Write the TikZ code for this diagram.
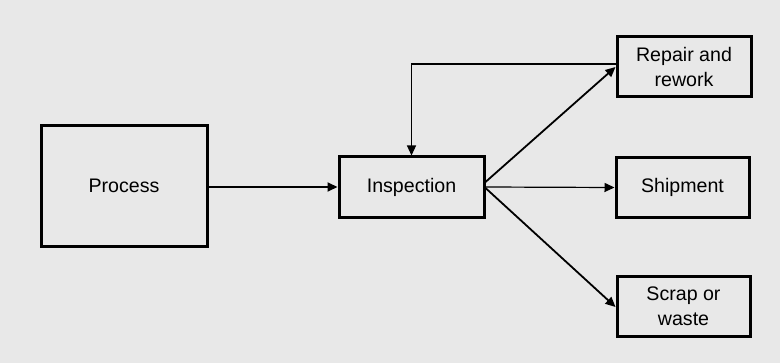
\documentclass[tikz,border=0pt]{standalone}
\usepackage{fontspec}
\setmainfont{Liberation Sans}
\usetikzlibrary{arrows.meta}

\begin{document}
\begin{tikzpicture}[x=0.5pt,y=-0.5pt,
    stage/.style={draw, line width=1.5pt, align=center, inner sep=0pt,
        font=\fontsize{9.8}{12.5}\selectfont},
    flow/.style={-{Triangle[length=5pt,width=4.5pt]}, line width=0.9pt},
    thinflow/.style={-{Triangle[length=5pt,width=4.5pt]}, line width=0.6pt}]

    %page and background
        \useasboundingbox (0,0) rectangle (780,363);
        \fill[black!9] (0,0) rectangle (780,363);

    %boxes
        \node[stage, minimum width=83pt, minimum height=60pt] (process) at (124,186) {Process};
        \node[stage, minimum width=72.5pt, minimum height=30pt] (inspection) at (411.5,187) {Inspection};
        \node[stage, minimum width=67pt, minimum height=30pt] (repair) at (684,67) {Repair and\\rework};
        \node[stage, minimum width=66.5pt, minimum height=29.5pt] (shipment) at (682.5,187.5) {Shipment};
        \node[stage, minimum width=66.5pt, minimum height=30pt] (scrap) at (683.5,306) {Scrap or\\waste};

    %feedback point
        \coordinate (back) at ([yshift=1.5pt]repair.west);

    %connectors
        \draw[flow] (process.east |- inspection.west) -- (inspection.west);
        \draw[flow] ([yshift=2.5pt]inspection.east) -- (repair.west);
        \draw[thinflow] (inspection.east) -- (shipment.west);
        \draw[flow] ([yshift=-0.5pt]inspection.east) -- ([yshift=-0.5pt]scrap.west);
        \draw[thinflow] (back) -| (inspection.north);

\end{tikzpicture}
\end{document}
